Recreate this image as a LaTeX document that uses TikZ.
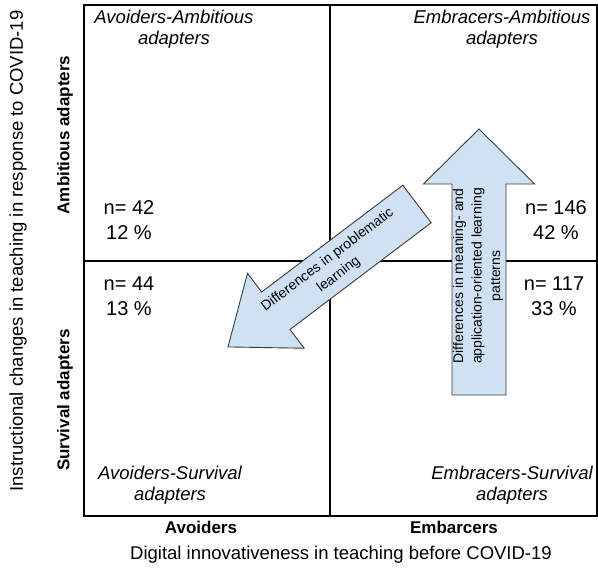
\documentclass[tikz,border=0pt]{standalone}
\usepackage{fontspec}
\setmainfont{Liberation Sans}
\usepackage{xcolor}
\usepackage{tikz}

\definecolor{arrowblue}{HTML}{CFE2F3}
\definecolor{arrowline}{HTML}{3A3A3A}

\begin{document}
\begin{tikzpicture}[x=1pt, y=1pt,
    gridline/.style={line width=2.6pt, black},
    blockarrow/.style={fill=arrowblue, draw=arrowline, line width=0.9pt, line join=miter},
    arrowtext/.style={align=center, inner sep=0pt, font=\fontsize{14}{18.5}\selectfont},
    quadtext/.style={align=center, inner sep=0pt, font=\fontsize{18.5}{21.5}\selectfont\itshape},
    counttext/.style={align=center, inner sep=0pt, font=\fontsize{20}{25.5}\selectfont},
    groupname/.style={inner sep=0pt, font=\fontsize{17}{20}\selectfont\bfseries},
    axisname/.style={inner sep=0pt, font=\fontsize{18.5}{21.5}\selectfont}]
  \useasboundingbox (0,0) rectangle (598,572);

  % the four quadrants
  \draw [gridline] (84,56) rectangle (597,567);
  \draw [gridline] (330,56) -- (330,567);
  \draw [gridline] (84,311) -- (597,311);

  % names of the quadrants
  \node [quadtext] (aa-name) at (174,543) {Avoiders-Ambitious\\adapters};
  \node [quadtext] (ea-name) at (502,543) {Embracers-Ambitious\\adapters};
  \node [quadtext] (as-name) at (170,87) {Avoiders-Survival\\adapters};
  \node [quadtext] (es-name) at (512,87) {Embracers-Survival\\adapters};

  % group sizes
  \foreach \name/\x/\y/\n/\p in {
    aa/129/352/42/12, ea/556/352/146/42,
    as/129/276/44/13, es/554/276/117/33%
  } {
    \node [counttext] (\name-count) at (\x,\y) {n= \n\\\p\ \%};
  }

  % axes
  \node [groupname] (avoiders) at (201,45) {Avoiders};
  \node [groupname] (embracers) at (454,45) {Embarcers};
  \node [axisname] (x-axis) at (341,17) {Digital innovativeness in teaching before COVID-19};
  \node [groupname, rotate=90] (ambitious) at (65,437) {Ambitious adapters};
  \node [groupname, rotate=90] (survival) at (65,172) {Survival adapters};
  \node [axisname, rotate=90] (y-axis) at (18,321) {Instructional changes in teaching in response to COVID-19};

  % diagonal arrow, from the ambitious embracers down to the survival avoiders
  \begin{scope}[shift={(417,368)}, rotate=217.1]
    \foreach \i/\x/\y in {
      0/0/23.5, 1/177/23.5, 2/177/47, 3/237/0, 4/177/-47, 5/177/-23.5, 6/0/-23.5
    } {
      \coordinate (diag-\i) at (\x,\y);
    }
    \draw [blockarrow]
      (diag-0) \foreach \i in {1,...,6}{ -- (diag-\i) } -- cycle;
    \node [arrowtext, rotate=37.1] (diag-text) at (105,0) {Differences in problematic\\learning};
  \end{scope}

  % upward arrow on the embracers side
  \begin{scope}[shift={(479,177)}, rotate=90]
    \foreach \i/\x/\y in {
      0/0/27, 1/211/27, 2/211/55.5, 3/266/0, 4/211/-55.5, 5/211/-27, 6/0/-27
    } {
      \coordinate (up-\i) at (\x,\y);
    }
    \draw [blockarrow]
      (up-0) \foreach \i in {1,...,6}{ -- (up-\i) } -- cycle;
    \node [arrowtext, rotate=90] (up-text) at (119,1) {Differences in meaning- and\\application-oriented learning\\patterns};
  \end{scope}
\end{tikzpicture}
\end{document}
